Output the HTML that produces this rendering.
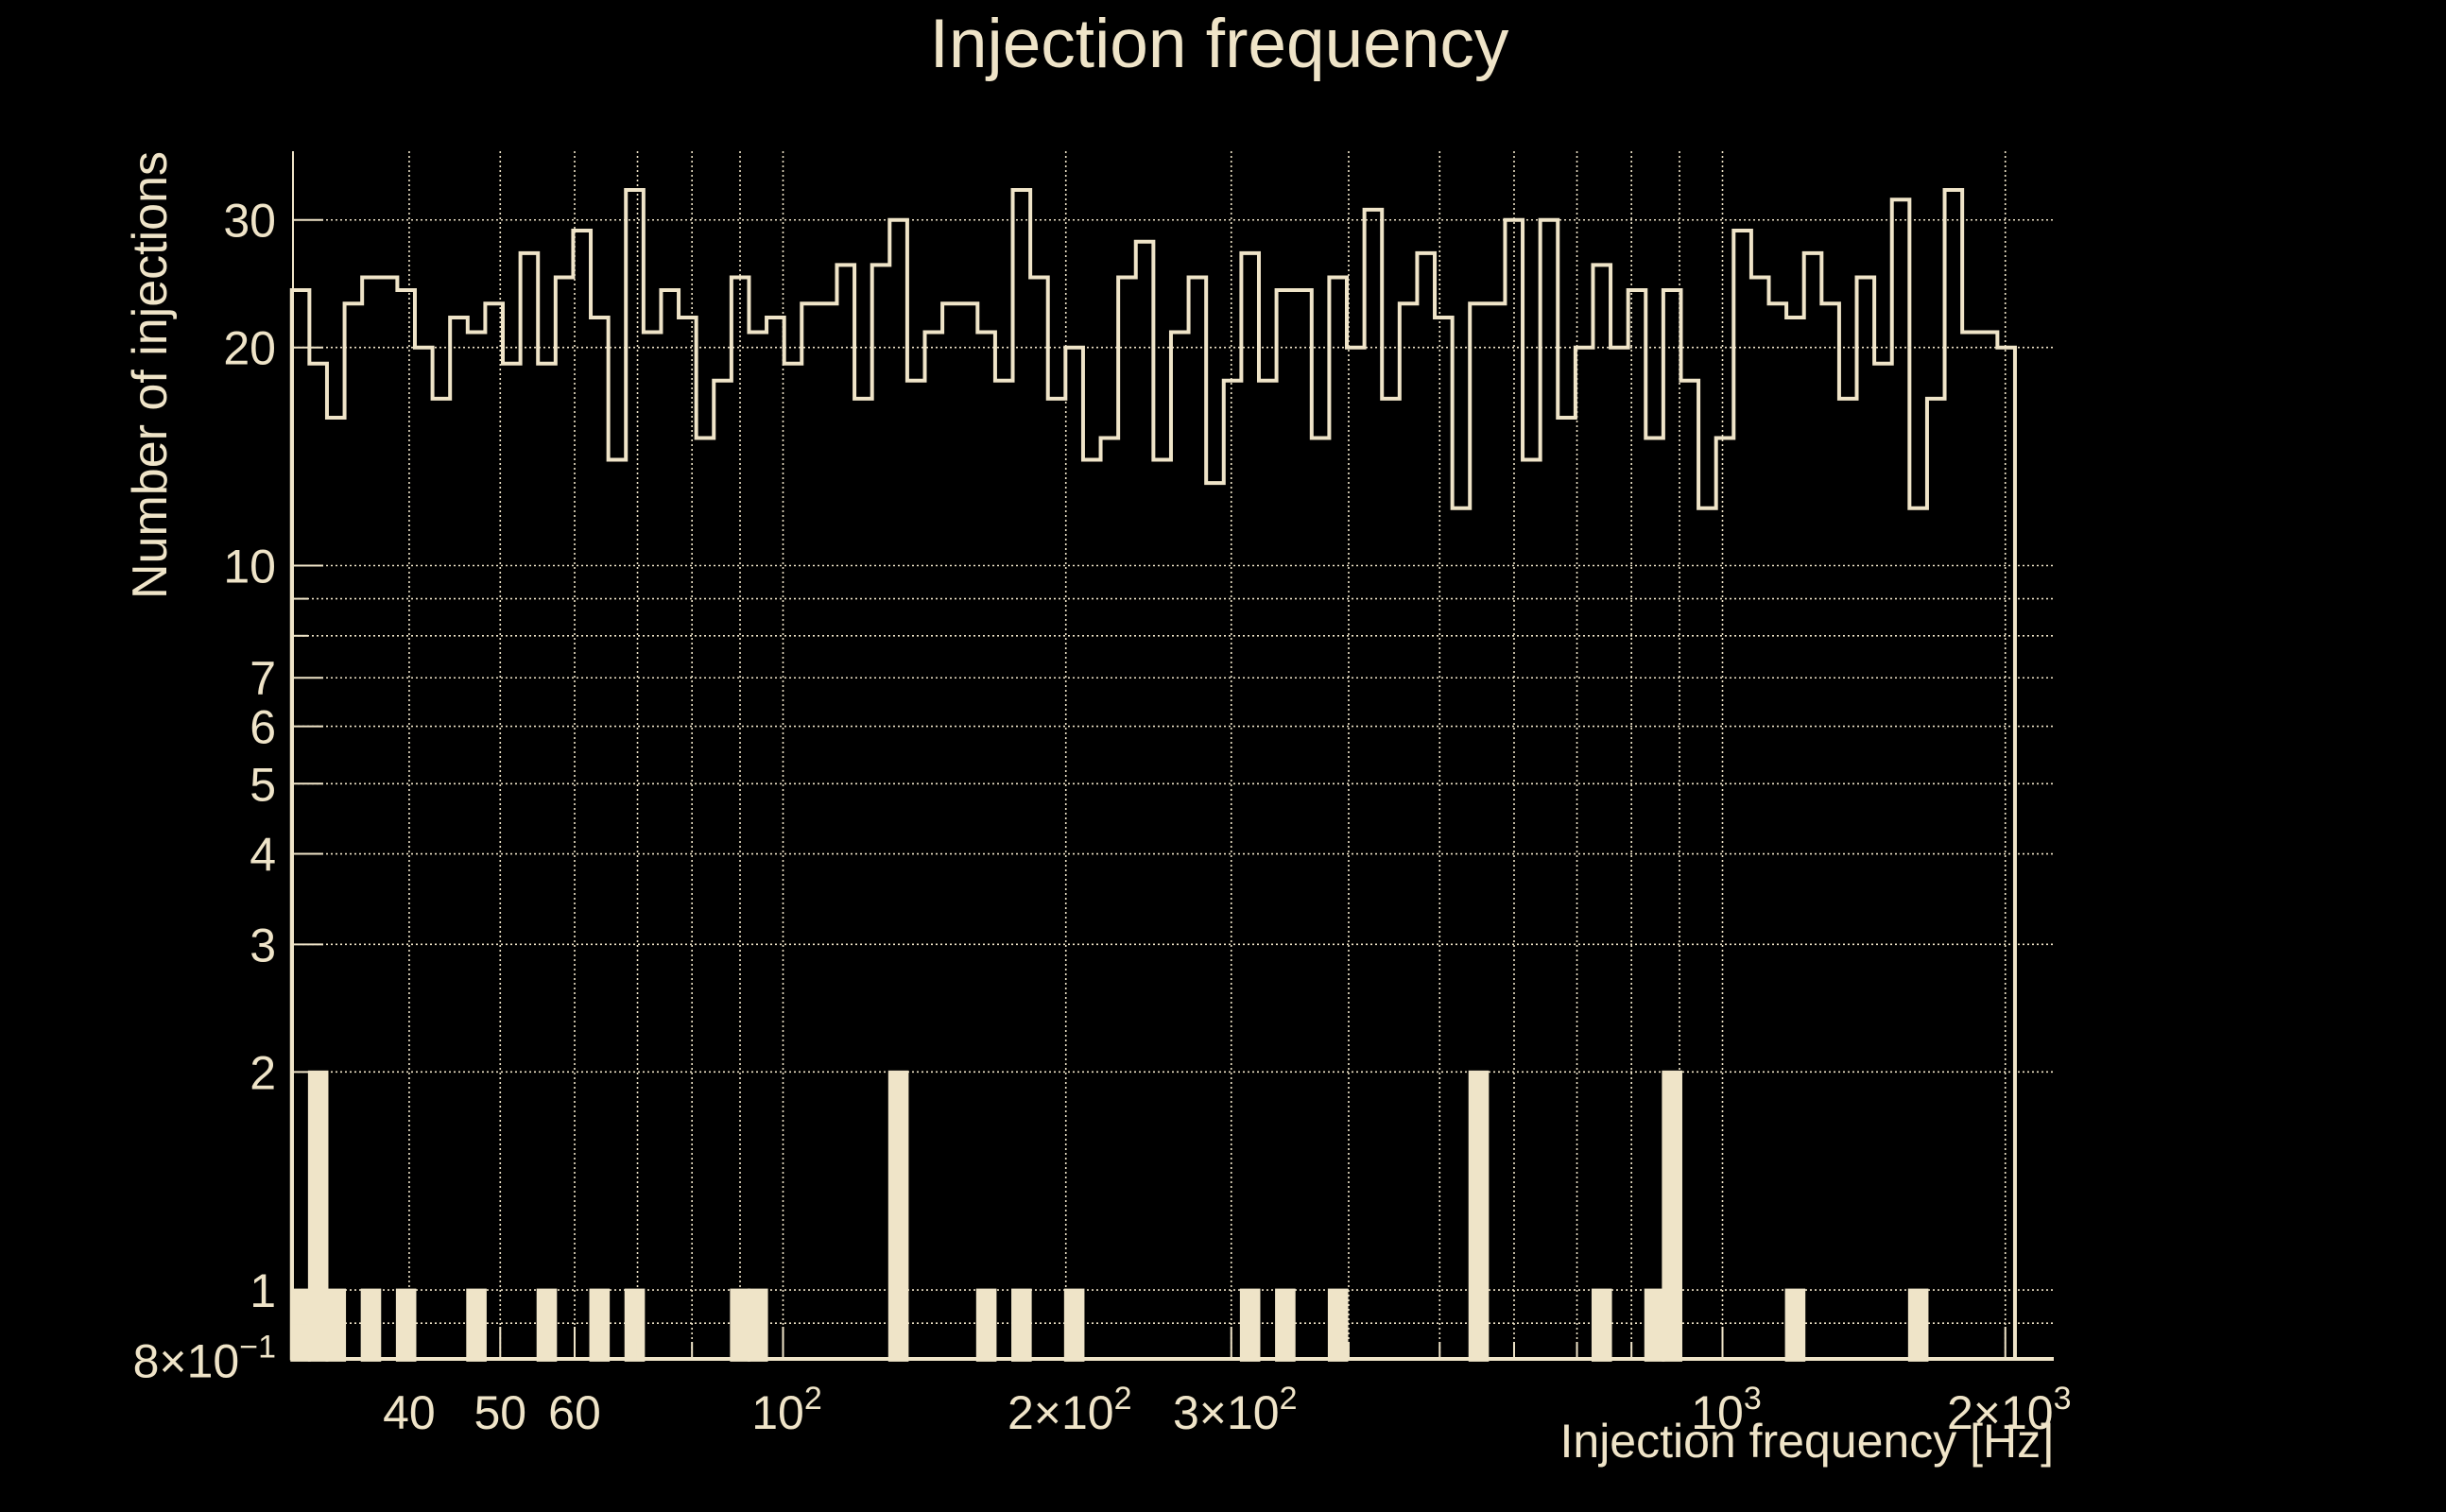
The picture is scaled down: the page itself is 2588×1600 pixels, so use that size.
<!DOCTYPE html>
<html><head><meta charset="utf-8"><style>
html,body{margin:0;padding:0;background:#000;}
svg{display:block;}
text{font-family:"Liberation Sans",sans-serif;fill:#efe4c8;}
</style></head><body>
<svg id="chart" width="2588" height="1600" viewBox="0 0 2588 1600" xmlns="http://www.w3.org/2000/svg">
<rect x="0" y="0" width="2588" height="1600" fill="#000"/>
<text x="1290" y="71" font-size="73" text-anchor="middle">Injection frequency</text>
<text transform="translate(176,160) rotate(-90)" font-size="52" text-anchor="end">Number of injections</text>
<text x="2173" y="1542" font-size="50" text-anchor="end">Injection frequency [Hz]</text>
<g id="grid"></g>
<g id="series"></g>
<g id="axes"></g>
</svg>
<script>
// ---- data ----
const binLow = 30;
const binHigh = 2048;
const allCounts = [24,19,16,23,25,25,24,20,17,22,21,23,19,27,19,25,29,22,14,33,21,24,22,15,18,25,21,22,19,23,23,26,
 17,26,30,18,21,23,23,21,18,33,25,17,20,14,15,25,28,14,21,25,13,18,27,18,24,24,15,25,20,31,17,23,
 27,22,12,23,23,30,14,30,16,20,26,20,24,15,24,18,12,15,29,25,23,22,27,23,17,25,19,32,12,17,33,21,21,20];
const flaggedCounts = [1,2,1,0,1,0,1,0,0,0, 1,0,0,0,1,0,0,1,0,1, 0,0,0,0,0,1,1,0,0,0, 0,0,0,0,2,0,0,0,0,1,
 0,1,0,0,1,0,0,0,0,0, 0,0,0,0,1,0,1,0,0,1, 0,0,0,0,0,0,0,2,0,0, 0,0,0,0,1,0,0,1,2,0, 0,0,0,0,0,1,0,0,0,0, 0,0,1,0,0,0,0,0];
const xTickValues = [40,50,60,100,200,300,1000,2000];
const xTickLabels = ["40","50","60","10|2","2×10|2","3×10|2","10|3","2×10|3"];
const xGridValues = [40,50,60,70,80,90,100,200,300,400,500,600,700,800,900,1000,2000];
const yTickValues = [0.8,1,2,3,4,5,6,7,10,20,30];
const yTickLabels = ["8×10|−1","1","2","3","4","5","6","7","10","20","30"];
const yGridValues = [0.9,1,2,3,4,5,6,7,8,9,10,20,30];

// ---- axes ----
const C = "#efe4c8";
const plotL = 310, plotR = 2173, plotT = 160, plotB = 1438;
function xs(f){ return 828.5 + 994 * Math.log10(f/100); }
const yMin = 0.8;
function ys(v){ return 1365.1 - 766.6 * Math.log10(v); }
const NS = "http://www.w3.org/2000/svg";
function mk(tag, attrs, parent){
  const e = document.createElementNS(NS, tag);
  for (const k in attrs) e.setAttribute(k, attrs[k]);
  parent.appendChild(e); return e;
}
const grid = document.getElementById('grid');
const series = document.getElementById('series');
const axes = document.getElementById('axes');

yGridValues.forEach(v => {
  const l = mk('line', {x1:plotL, x2:plotR, y1:ys(v), y2:ys(v), stroke:C, 'stroke-width':1.6, 'stroke-dasharray':'2 3'}, grid);
  
  
});
xGridValues.forEach(f => {
  const l = mk('line', {x1:xs(f), x2:xs(f), y1:plotT, y2:plotB, stroke:C, 'stroke-width':1.6, 'stroke-dasharray':'2 3'}, grid);
  
  
});

// bin edges (log spaced)
const nb = allCounts.length;
const edges = [];
for (let i = 0; i <= nb; i++) edges.push(Math.pow(10, Math.log10(binLow) + (Math.log10(binHigh) - Math.log10(binLow)) * i / nb));

// flagged filled bars
flaggedCounts.forEach((c, i) => {
  if (c <= 0) return;
  const x0 = xs(edges[i]), x1 = xs(edges[i+1]);
  const r = mk('rect', {x:x0, y:ys(c), width:x1-x0, height:ys(yMin)-ys(c), fill:C, stroke:C, 'stroke-width':3}, series);
  
  
});

// all-injections step histogram
let d = 'M' + xs(edges[0]) + ' ' + ys(yMin);
allCounts.forEach((c, i) => {
  d += ' L' + xs(edges[i]) + ' ' + ys(c) + ' L' + xs(edges[i+1]) + ' ' + ys(c);
});
d += ' L' + xs(edges[nb]) + ' ' + ys(yMin);
const p = mk('path', {d:d, fill:'none', stroke:C, 'stroke-width':4}, series);



// axis lines
const ax = mk('line', {x1:plotL, x2:plotR, y1:plotB, y2:plotB, stroke:C, 'stroke-width':4}, axes);


const ay = mk('line', {x1:plotL, x2:plotL, y1:plotT, y2:plotB, stroke:C, 'stroke-width':2}, axes);



function addLabel(str, x, y, size, anchor, name){
  const t = mk('text', {x:x, y:y, 'font-size':size, 'text-anchor':anchor}, axes);
  
  
  const parts = str.split('|');
  const a = document.createElementNS(NS, 'tspan'); a.textContent = parts[0]; t.appendChild(a);
  if (parts[1]) {
    const b = document.createElementNS(NS, 'tspan');
    b.setAttribute('font-size', size*0.68); b.setAttribute('dy', -size*0.42);
    b.textContent = parts[1]; t.appendChild(b);
  }
}

// x ticks
xGridValues.forEach(f => {
  const major = xTickValues.indexOf(f) >= 0;
  const l = mk('line', {x1:xs(f), x2:xs(f), y1:plotB, y2:plotB-(major?34:18), stroke:C, 'stroke-width':2}, axes);
  
  
});
xTickValues.forEach((f, i) => {
  const sup = xTickLabels[i].indexOf('|') >= 0;
  addLabel(xTickLabels[i], xs(f) + (sup ? 4 : 0), 1512, 50, 'middle', 'x-tick-label');
});
// y ticks
yGridValues.concat([0.8]).forEach(v => {
  const major = yTickValues.indexOf(v) >= 0;
  const l = mk('line', {x1:plotL, x2:plotL+(major?32:16), y1:ys(v), y2:ys(v), stroke:C, 'stroke-width':2}, axes);
  
  
});
yTickValues.forEach((v, i) => {
  addLabel(yTickLabels[i], 292, ys(v) + 18, 50, 'end', 'y-tick-label');
});
</script>
</body></html>
